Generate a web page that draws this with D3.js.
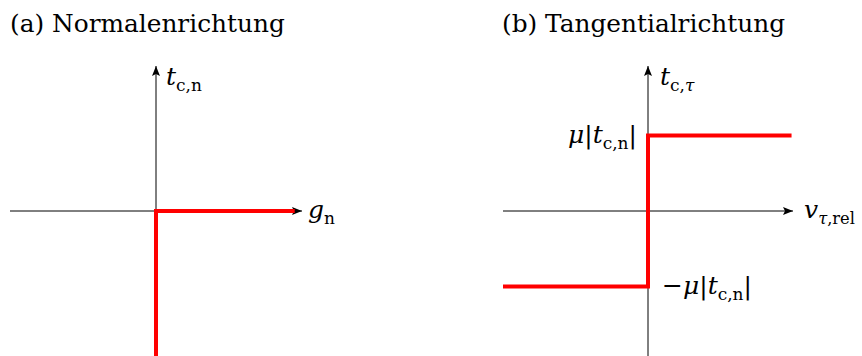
<!DOCTYPE html>
<html><head><meta charset="utf-8">
<script src="https://cdn.jsdelivr.net/npm/d3@7"></script>
<style>body{margin:0;background:#fff}svg{display:block}
text{font-family:"DejaVu Serif","Liberation Serif",serif}</style>
</head><body>
<svg id="c" width="862" height="356"></svg>
<script>
// ---- data ----
const panelTitles = ["(a) Normalenrichtung", "(b) Tangentialrichtung"];
const normalX = [0, 0, 0.95];
const normalY = [-1.01, 0, 0];
const tangX = [-1, 0, 0, 0.99];
const tangY = [-0.52, -0.52, 0.52, 0.52];
const axisDomain = [-1, 1];

const svg = d3.select("#c");
const defs = svg.append("defs");
defs.append("marker").attr("id","arr").attr("viewBox","0 0 10 8")
  .attr("refX",10).attr("refY",4).attr("markerWidth",10).attr("markerHeight",8)
  .attr("markerUnits","userSpaceOnUse").attr("orient","auto")
  .append("path").attr("d","M0,0 L10,4 L0,8 L2,4 Z").attr("fill","#000");

const panels = [
  {x0:10, x1:302, y0:356, y1:66, xs:normalX, ys:normalY, tx:10, title:panelTitles[0]},
  {x0:503, x1:793, y0:356, y1:66, xs:tangX, ys:tangY, tx:502, title:panelTitles[1]}
];

function mathLabel(g, x, y, parts, anchor, subSize){
  const t = g.append("text").attr("x",x).attr("y",y)
    .attr("font-size",25).attr("text-anchor",anchor||"start");
  parts.forEach(p=>{
    const s = t.append("tspan").text(p.t);
    if(p.i) s.attr("font-style","italic");
    if(p.sub){ s.attr("font-size",subSize||17).attr("dy", 6); }
    if(p.ss){ s.attr("font-size",subSize||17); }
    if(p.up){ s.attr("dy", -6); }
  });
  return t;
}

panels.forEach((p,k)=>{
  const g = svg.append("g");
  const x = d3.scaleLinear().domain(axisDomain).range([p.x0,p.x1]);
  const y = d3.scaleLinear().domain(axisDomain).range([p.y0, p.y1]);
  g.append("text").attr("x",p.tx).attr("y",32)
    .attr("font-size",24.8).text(p.title);
  // axes
  g.append("line").attr("x1",x(-1)).attr("x2",x(1)).attr("y1",y(0)).attr("y2",y(0))
    .attr("stroke","#000").attr("stroke-width",1).attr("marker-end","url(#arr)");
  g.append("line").attr("x1",x(0)).attr("x2",x(0)).attr("y1",y(-1)).attr("y2",y(1))
    .attr("stroke","#000").attr("stroke-width",1).attr("marker-end","url(#arr)");
  // red curve
  const line = d3.line().x(d=>x(d[0])).y(d=>y(d[1]));
  g.append("path").datum(d3.zip(p.xs,p.ys)).attr("d",line)
    .attr("fill","none").attr("stroke","#ff0000").attr("stroke-width",4)
    .attr("stroke-linejoin","miter");
  p.x = x; p.y = y; p.g = g;
});

// labels
const a = panels[0], b = panels[1];
mathLabel(a.g, a.x(0)+10, 85, [{t:"t",i:1},{t:"c,n",sub:1}]);
mathLabel(a.g, a.x(1)+6, a.y(0)+7, [{t:"g",i:1},{t:"n",sub:1}]);
mathLabel(b.g, b.x(0)+12, 85, [{t:"t",i:1},{t:"c,",sub:1},{t:"τ",i:1,ss:1}]);
mathLabel(b.g, b.x(1)+11, b.y(0)+7, [{t:"v",i:1},{t:"τ",i:1,sub:1},{t:",rel",ss:1}], "start", 16.3);
mathLabel(b.g, b.x(0)-11, b.y(tangY[3])+7, [{t:"μ",i:1},{t:"|"},{t:"t",i:1},{t:"c,n",sub:1},{t:"|",up:1}], "end");
mathLabel(b.g, b.x(0)+14, b.y(tangY[0])+8, [{t:"−"},{t:"μ",i:1},{t:"|"},{t:"t",i:1},{t:"c,n",sub:1},{t:"|",up:1}]);
</script>
</body></html>
